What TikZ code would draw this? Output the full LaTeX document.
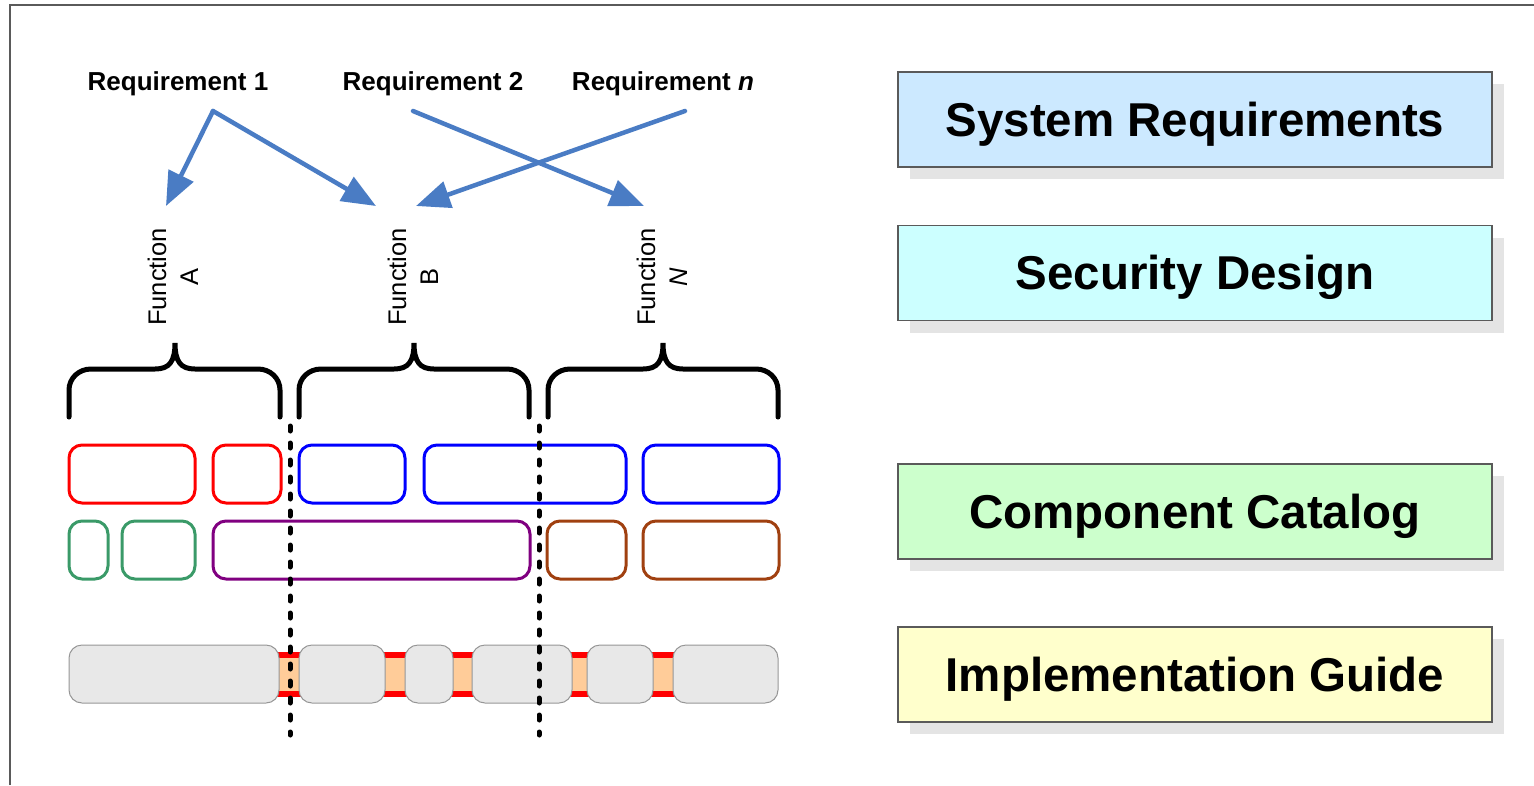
\documentclass[tikz,border=0pt]{standalone}
\usepackage{fontspec}
\setmainfont{Liberation Sans}
\usetikzlibrary{arrows.meta,calc,shadows}

\definecolor{reqblue}{RGB}{74,124,196}
\definecolor{greenblock}{RGB}{58,154,104}
\definecolor{purpleblock}{RGB}{128,0,128}
\definecolor{brownblock}{RGB}{160,64,16}
\definecolor{greyfill}{RGB}{232,232,232}
\definecolor{greyedge}{RGB}{150,150,150}
\definecolor{bandorange}{RGB}{255,204,153}
\definecolor{shadowgrey}{RGB}{228,228,228}
\definecolor{boxedge}{RGB}{90,90,90}
\definecolor{sysblue}{RGB}{204,233,255}
\definecolor{seccyan}{RGB}{204,255,255}
\definecolor{compgreen}{RGB}{204,255,204}
\definecolor{implyellow}{RGB}{255,255,204}

\tikzset{
  reqlabel/.style={font=\fontsize{26}{31}\selectfont\bfseries, anchor=base, inner sep=2pt},
  fnlabel/.style={font=\fontsize{25.5}{32}\selectfont, rotate=90, align=center, inner sep=0pt},
  reqarrow/.style={draw=reqblue, line width=4.5pt, line cap=round, -{Triangle[length=34pt,width=27pt]}},
  bracket/.style={line width=5pt, line cap=round},
  block/.style={line width=3pt, rounded corners=13pt},
  greyblock/.style={fill=greyfill, draw=greyedge, line width=1pt, rounded corners=13pt},
  splitline/.style={line width=5pt, line cap=round, dash pattern=on 5pt off 12pt},
  docbox/.style={draw=boxedge, line width=1.5pt, minimum width=594pt, minimum height=95pt,
    text depth=0.1em, font=\fontsize{47.5}{57}\selectfont\bfseries,
    drop shadow={shadow xshift=12pt, shadow yshift=-12pt, fill=shadowgrey, opacity=1}}
}

% brace over one function: left x, middle x, right x
\newcommand{\fnbrace}[3]{%
  \draw[bracket] (#1,417) -- (#1,390) .. controls (#1,378) and ($(#1,369)+(10,0)$) .. ($(#1,369)+(22,0)$)
    -- ($(#2,369)+(-20,0)$) .. controls ($(#2,369)+(-6,0)$) and (#2,362) .. (#2,343)
    .. controls (#2,362) and ($(#2,369)+(6,0)$) .. ($(#2,369)+(20,0)$)
    -- ($(#3,369)+(-22,0)$) .. controls ($(#3,369)+(-10,0)$) and (#3,378) .. (#3,390) -- (#3,417);}

\begin{document}
\begin{tikzpicture}[x=1pt,y=-1pt]
\useasboundingbox (0,0) rectangle (1534,785);

% outer frame
\draw[boxedge, line width=1.5pt] (10,785) -- (10,5) -- (1534,5);

% requirements
\node[reqlabel] (req1) at (178,90) {Requirement 1};
\node[reqlabel] (req2) at (433,90) {Requirement 2};
\node[reqlabel] (reqn) at (663,90) {Requirement \textit{n}};

% functions
\node[fnlabel] (fnA) at (173,277) {Function\\A};
\node[fnlabel] (fnB) at (413,277) {Function\\B};
\node[fnlabel] (fnN) at (662,277) {Function\\\textit{N}};

\coordinate (tipA) at (166,206);
\coordinate (tipB1) at (376,206);
\coordinate (tipB2) at (416,206);
\coordinate (tipN) at (644,206);

\draw[reqarrow] ($(req1.base)+(35,21)$) -- (tipA);
\draw[reqarrow] ($(req1.base)+(35,21)$) -- (tipB1);
\draw[reqarrow] ($(req2.base)+(-20,21)$) -- (tipN);
\draw[reqarrow] ($(reqn.base)+(22,21)$) -- (tipB2);

% braces
\fnbrace{69}{175}{280}
\fnbrace{299}{414}{529}
\fnbrace{548}{663}{778}

% components, first row
\draw[block, red] (69,445) rectangle (195,503);
\draw[block, red] (213,445) rectangle (281,503);
\draw[block, blue] (299,445) rectangle (405,503);
\draw[block, blue] (424,445) rectangle (626,503);
\draw[block, blue] (643,445) rectangle (779,503);
% second row
\draw[block, greenblock] (69,521) rectangle (108,579);
\draw[block, greenblock] (122,521) rectangle (195,579);
\draw[block, purpleblock] (213,521) rectangle (530,579);
\draw[block, brownblock] (547,521) rectangle (626,579);
\draw[block, brownblock] (643,521) rectangle (779,579);

% implementation strip
\fill[bandorange] (275,652) rectangle (676,697);
\fill[red] (275,652) rectangle (676,658);
\fill[red] (275,691) rectangle (676,697);
\foreach \a/\b in {69/279, 299/385, 405/453, 472/572, 587/653, 673/778}
  \draw[greyblock] (\a,645) rectangle (\b,703);

% function boundaries
\draw[splitline] (290,426) -- (290,735);
\draw[splitline] (539,426) -- (539,735);

% documents
\node[docbox, fill=sysblue] (sysreq) at (1195,119.5) {System Requirements};
\node[docbox, fill=seccyan] (secdes) at (1195,273) {Security Design};
\node[docbox, fill=compgreen] (compcat) at (1195,511.5) {Component Catalog};
\node[docbox, fill=implyellow] (implguide) at (1195,674.5) {Implementation Guide};
\end{tikzpicture}
\end{document}
